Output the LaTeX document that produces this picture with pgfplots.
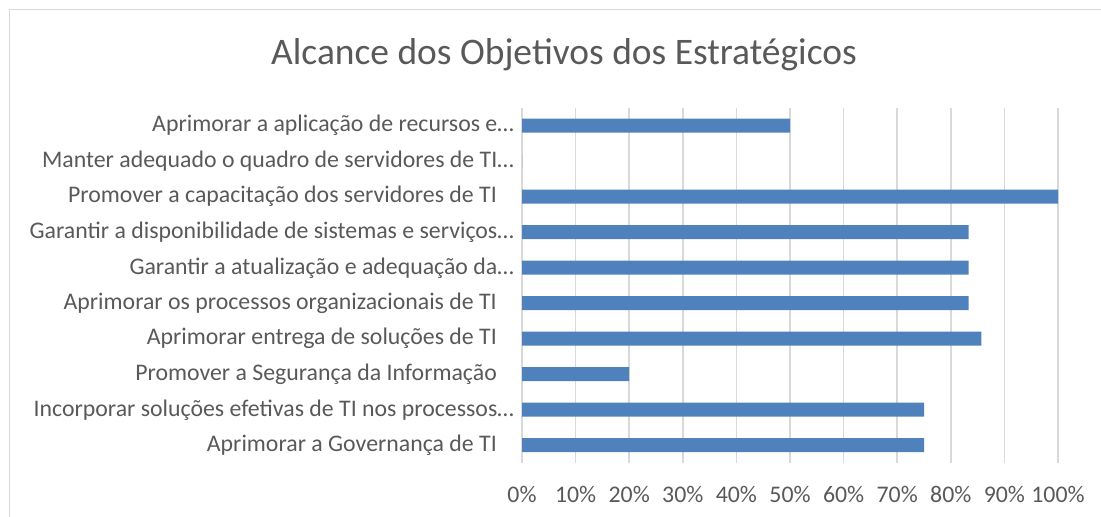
\documentclass[border=0pt]{standalone}
\usepackage{fontspec}
\setmainfont{Carlito}
\usepackage{pgfplots}
\pgfplotsset{compat=1.18}
\definecolor{barblue}{HTML}{4F81BD}
\definecolor{txt}{HTML}{595959}
\definecolor{gridc}{HTML}{D9D9D9}
\newcommand{\pad}{\rule{17bp}{0pt}}
\begin{document}
\begin{tikzpicture}[x=1bp,y=1bp]
\useasboundingbox (0,0) rectangle (1101,517);
\draw[gridc, line width=1.5bp] (9.5,0) -- (9.5,507.5) -- (1101,507.5);
\node[txt, font=\fontsize{37.6}{44}\selectfont] at (564,462) {Alcance dos Objetivos dos Estratégicos};
\begin{axis}[
  at={(522bp,54bp)}, anchor=south west,
  scale only axis, width=536bp, height=355bp,
  xmin=0, xmax=100, ymin=-0.5, ymax=9.5,
  xbar, bar width=14bp,
  axis line style={draw=none},
  major tick length=0pt,
  xtick={0,10,...,100},
  xticklabels={0\%,10\%,20\%,30\%,40\%,50\%,60\%,70\%,80\%,90\%,100\%},
  ytick={0,...,9},
  yticklabels={
    Aprimorar a Governança de TI\pad,
    Incorporar soluções efetivas de TI nos processos…,
    Promover a Segurança da Informação\pad,
    Aprimorar entrega de soluções de TI\pad,
    Aprimorar os processos organizacionais de TI\pad,
    Garantir a atualização e adequação da…,
    Garantir a disponibilidade de sistemas e serviços…,
    Promover a capacitação dos servidores de TI\pad,
    Manter adequado o quadro de servidores de TI…,
    Aprimorar a aplicação de recursos e…},
  xmajorgrids, grid style={gridc, line width=1.5bp},
  ticklabel style={txt, font=\fontsize{23.9}{28}\selectfont},
  xticklabel style={anchor=base, yshift=-40bp},
  yticklabel style={inner sep=0pt, xshift=-8bp},
]
\addplot[fill=barblue, draw=none] coordinates {
(75,0) (75,1) (20,2) (85.71,3) (83.33,4) (83.33,5) (83.33,6) (100,7) (0,8) (50,9)};
\end{axis}
\end{tikzpicture}
\end{document}
